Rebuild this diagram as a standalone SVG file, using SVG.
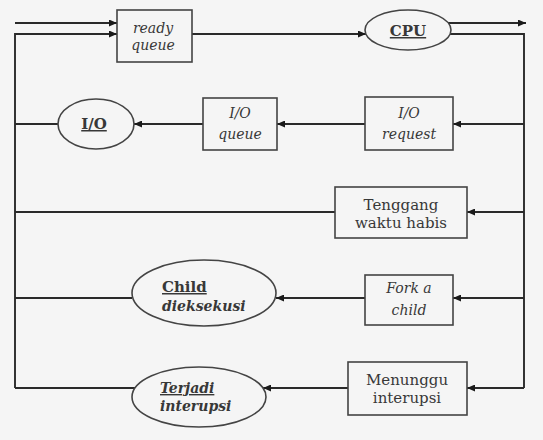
<svg xmlns="http://www.w3.org/2000/svg" width="543" height="440" viewBox="0 0 543 440" font-family="DejaVu Serif, Liberation Serif, serif">
<style>
.n{fill:none;stroke:#444;stroke-width:1.6}
.c{fill:none;stroke:#2a2a2a;stroke-width:1.9}
text{font-size:15px;fill:#383838;text-anchor:middle}
.i{font-style:italic;font-size:14px}
.b{font-weight:bold}
.u{text-decoration:underline}
.l{text-anchor:start}
</style>
<defs>
<marker id="ah" markerUnits="userSpaceOnUse" markerWidth="8" markerHeight="7" refX="8" refY="3.5" orient="auto">
<path d="M0,0 L8,3.5 L0,7 Z" fill="#1a1a1a"/>
</marker>
</defs>
<rect width="543" height="440" fill="#f5f5f5"/>
<g id="connectors">
<line class="c" x1="15" y1="23" x2="117" y2="23" marker-end="url(#ah)"/>
<polyline class="c" points="15,388 15,34 117,34" marker-end="url(#ah)"/>
<line class="c" x1="192" y1="34" x2="366" y2="34" marker-end="url(#ah)"/>
<line class="c" x1="448" y1="23" x2="526" y2="23" marker-end="url(#ah)"/>
<polyline class="c" points="450,34 524,34 524,388"/>
<line class="c" x1="524" y1="124" x2="453" y2="124" marker-end="url(#ah)"/>
<line class="c" x1="365" y1="124" x2="277" y2="124" marker-end="url(#ah)"/>
<line class="c" x1="203" y1="124" x2="134" y2="124" marker-end="url(#ah)"/>
<line class="c" x1="58" y1="124" x2="15" y2="124"/>
<line class="c" x1="524" y1="212" x2="467" y2="212" marker-end="url(#ah)"/>
<line class="c" x1="335" y1="212" x2="15" y2="212"/>
<line class="c" x1="524" y1="298" x2="453" y2="298" marker-end="url(#ah)"/>
<line class="c" x1="365" y1="298" x2="276" y2="298" marker-end="url(#ah)"/>
<line class="c" x1="132" y1="298" x2="15" y2="298"/>
<line class="c" x1="524" y1="388" x2="467" y2="388" marker-end="url(#ah)"/>
<line class="c" x1="348" y1="388" x2="263" y2="388" marker-end="url(#ah)"/>
<line class="c" x1="135" y1="388" x2="15" y2="388"/>
</g>
<g id="ready-queue">
<rect class="n" x="117" y="10" width="75" height="52"/>
<text class="i" x="153" y="33">ready</text>
<text class="i" x="153" y="50">queue</text>
</g>
<g id="cpu">
<ellipse class="n" cx="408" cy="30" rx="43" ry="20"/>
<text class="b u" x="408" y="36">CPU</text>
</g>
<g id="io">
<ellipse class="n" cx="96" cy="124" rx="38" ry="25"/>
<text class="b u" x="94" y="129">I/O</text>
</g>
<g id="io-queue">
<rect class="n" x="203" y="98" width="74" height="52"/>
<text class="i" x="240" y="118">I/O</text>
<text class="i" x="240" y="139">queue</text>
</g>
<g id="io-request">
<rect class="n" x="365" y="97" width="88" height="53"/>
<text class="i" x="409" y="118">I/O</text>
<text class="i" x="409" y="139">request</text>
</g>
<g id="tenggang">
<rect class="n" x="335" y="187" width="132" height="51"/>
<text x="401" y="210">Tenggang</text>
<text x="401" y="228">waktu habis</text>
</g>
<g id="child">
<ellipse class="n" cx="204" cy="293" rx="72" ry="33"/>
<text class="b u l" x="162" y="292">Child</text>
<text class="b i l" x="162" y="311">dieksekusi</text>
</g>
<g id="fork">
<rect class="n" x="365" y="275" width="88" height="50"/>
<text class="i" x="409" y="293">Fork a</text>
<text class="i" x="409" y="315">child</text>
</g>
<g id="terjadi">
<ellipse class="n" cx="199" cy="397" rx="67" ry="30"/>
<text class="b i u l" x="160" y="393">Terjadi</text>
<text class="b i l" x="160" y="411">interupsi</text>
</g>
<g id="menunggu">
<rect class="n" x="348" y="362" width="119" height="53"/>
<text x="407" y="385">Menunggu</text>
<text x="407" y="403">interupsi</text>
</g>
</svg>
